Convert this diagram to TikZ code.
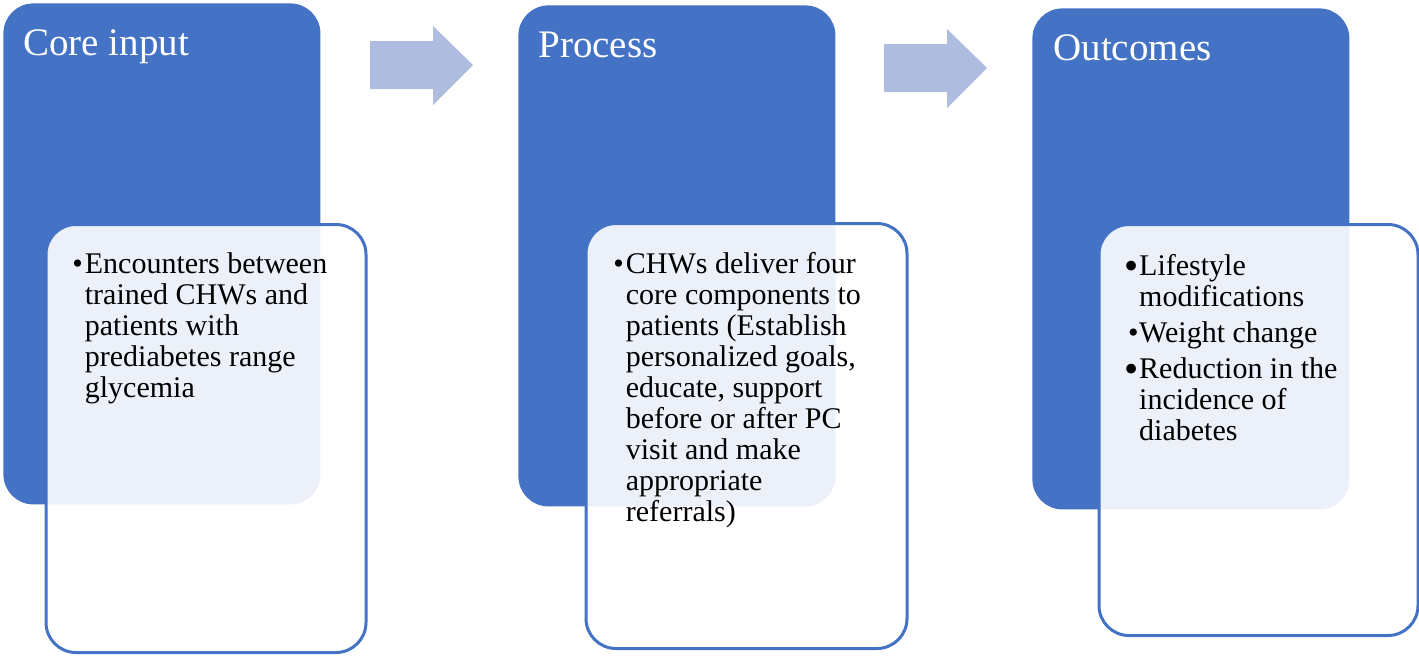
\documentclass[tikz,border=0pt]{standalone}
\usepackage{fontspec}
\setmainfont{Liberation Serif}
\usetikzlibrary{positioning}
\definecolor{phaseblue}{HTML}{4472C4}
\definecolor{arrowblue}{HTML}{AEBCDF}

\tikzset{
  phase/.style={fill=phaseblue, rounded corners=15pt, minimum width=158.5pt,
    minimum height=250.5pt, anchor=north west, inner sep=0pt},
  phasetitle/.style={text=white, font=\fontsize{19.5}{22}\selectfont,
    anchor=base west, inner sep=0pt},
  pane/.style={draw=phaseblue, line width=1.5pt, fill=white, fill opacity=0.9,
    rounded corners=15pt, anchor=north west, inner sep=0pt, minimum width=160pt},
  panetext/.style={font=\fontsize{15}{15.5}\selectfont, anchor=base west,
    inner sep=0pt},
  flowarrow/.style={fill=arrowblue},
}

\newcommand{\bul}{\textbullet}
\newcommand{\bigbul}{\raisebox{-0.35ex}{\scalebox{1.35}{\textbullet}}}

\begin{document}
\begin{tikzpicture}[x=0.5pt, y=-0.5pt]
  \useasboundingbox (0,0) rectangle (1419,655);

  % Phase blocks
  \node[phase] (core) at (3,3) {};
  \node[phase] (process) at (518,5) {};
  \node[phase] (outcomes) at (1032,8) {};

  % Block arrows between phases
  \foreach \dx/\dy in {0/0, 514/3} {
    \begin{scope}[shift={(\dx,\dy)}]
      \fill[flowarrow] (370,41) -- (433,41) -- (433,26) -- (473,65)
        -- (433,105) -- (433,89) -- (370,89) -- cycle;
    \end{scope}
  }

  % Detail panes
  \node[pane, minimum height=214pt] (corepane) at (44.5,223) {};
  \node[pane, minimum height=212.5pt, minimum width=160.5pt] (processpane) at (584.5,222) {};
  \node[pane, minimum height=205.5pt, minimum width=159.5pt] (outcomespane) at (1097.5,223) {};

  % Titles
  \node[phasetitle] (coretitle) at ([xshift=10pt, yshift=-26pt]core.north west) {Core input};
  \node[phasetitle] (processtitle) at ([xshift=10pt, yshift=-26pt]process.north west) {Process};
  \node[phasetitle] (outcomestitle) at ([xshift=10.5pt, yshift=-26pt]outcomes.north west) {Outcomes};

  % Bullet texts
  \node[panetext] (coretext) at ([xshift=13.75pt, yshift=-25pt]corepane.north west) {%
    \begin{tabular}[t]{@{}l@{\hspace{1pt}}l@{}}
      \bul & Encounters between\\
           & trained CHWs and\\
           & patients with\\
           & prediabetes range\\
           & glycemia
    \end{tabular}};
  \node[panetext] (processtext) at ([xshift=14.25pt, yshift=-25.5pt]processpane.north west) {%
    \begin{tabular}[t]{@{}l@{\hspace{1pt}}l@{}}
      \bul & CHWs deliver four\\
           & core components to\\
           & patients (Establish\\
           & personalized goals,\\
           & educate, support\\
           & before or after PC\\
           & visit and make\\
           & appropriate\\
           & referrals)
    \end{tabular}};
  \node[panetext] (outcomestext) at ([xshift=13.25pt, yshift=-26pt]outcomespane.north west) {%
    \begin{tabular}[t]{@{}r@{\hspace{0.3pt}}l@{}}
      \bigbul & Lifestyle\\
              & modifications\\[2.5pt]
      \bul    & Weight change\\[2.5pt]
      \bigbul & Reduction in the\\
              & incidence of\\
              & diabetes
    \end{tabular}};
\end{tikzpicture}
\end{document}
